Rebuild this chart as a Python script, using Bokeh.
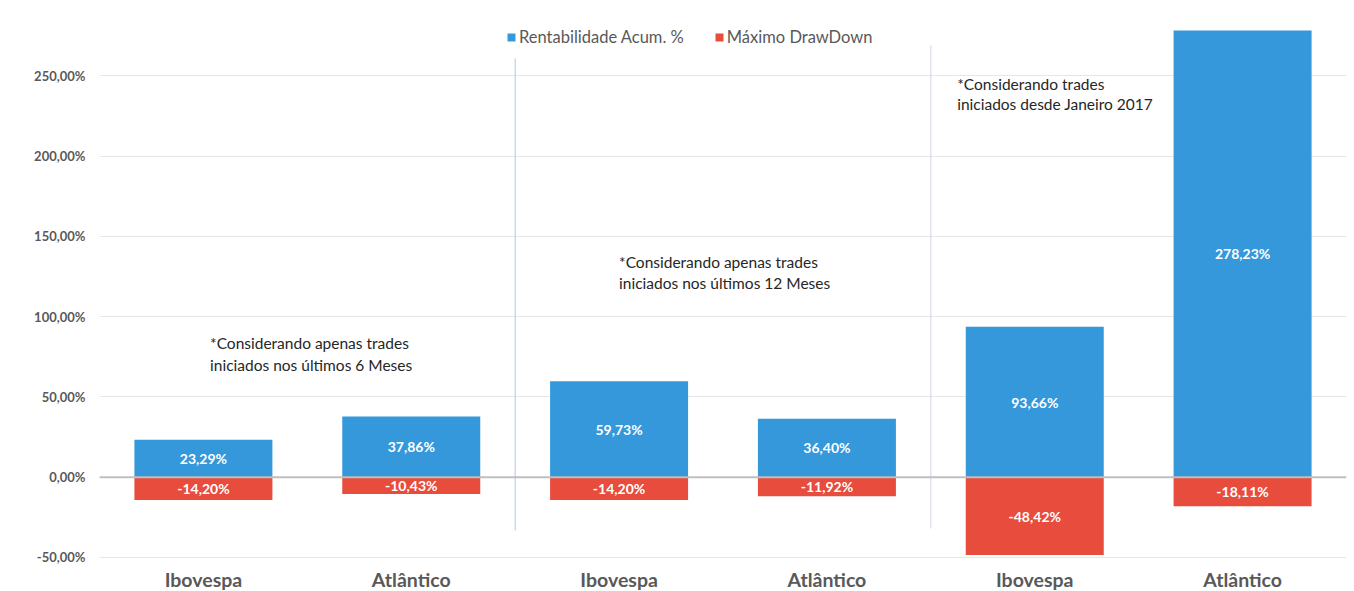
from bokeh.plotting import figure
from bokeh.models import (Range1d, FixedTicker, Span, Legend, LegendItem,
                          ColumnDataSource)
from bokeh.core.properties import value
from bokeh.embed import file_html
from bokeh.resources import INLINE

# ---- data ----
categories = ["Ibovespa", "Atlântico", "Ibovespa", "Atlântico", "Ibovespa", "Atlântico"]
rentabilidade = [23.29, 37.86, 59.73, 36.40, 93.66, 278.23]
drawdown = [-14.20, -10.43, -14.20, -11.92, -48.42, -18.11]
y_ticks = [-50, 0, 50, 100, 150, 200, 250]
notes = [
    ["*Considerando apenas trades", "iniciados nos últimos 6 Meses"],
    ["*Considerando apenas trades", "iniciados nos últimos 12 Meses"],
    ["*Considerando trades", "iniciados desde Janeiro 2017"],
]

FONT = "Lato"
BLUE = "#3498db"
RED = "#e74c3c"
GRAY = "#595959"


def fmt(v):
    return f"{v:.2f}".replace(".", ",") + "%"


xs = [i + 0.5 for i in range(len(categories))]

p = figure(width=1354, height=591, output_backend="svg", toolbar_location=None,
           x_range=Range1d(0, 6), y_range=Range1d(-71.2, 281.4),
           x_axis_location=None,
           min_border_left=99, min_border_right=8, min_border_top=25,
           min_border_bottom=0)
p.outline_line_color = None
p.background_fill_color = "white"
p.border_fill_color = "white"

# y axis
p.yaxis.ticker = FixedTicker(ticks=y_ticks)
p.yaxis.major_label_overrides = {t: fmt(t) for t in y_ticks}
p.yaxis.axis_line_color = None
p.yaxis.major_tick_line_color = None
p.yaxis.minor_tick_line_color = None
p.yaxis.major_tick_out = 0
p.yaxis.major_tick_in = 0
p.yaxis.major_label_standoff = 14
p.yaxis.major_label_text_font = FONT
p.yaxis.major_label_text_font_style = "bold"
p.yaxis.major_label_text_font_size = "13px"
p.yaxis.major_label_text_color = GRAY

p.xgrid.visible = False
p.ygrid.ticker = FixedTicker(ticks=y_ticks)
p.ygrid.grid_line_color = "#e6e6e6"
p.ygrid.grid_line_width = 1

# bars
src = ColumnDataSource(dict(x=xs, r=rentabilidade, d=drawdown,
                            rl=[fmt(v) for v in rentabilidade],
                            dl=[fmt(v) for v in drawdown],
                            rm=[v / 2 for v in rentabilidade],
                            dm=[v / 2 for v in drawdown],
                            cat=categories))
rb = p.vbar(x="x", top="r", bottom=0, width=0.664, source=src,
            fill_color=BLUE, line_color=None)
db = p.vbar(x="x", top=0, bottom="d", width=0.664, source=src,
            fill_color=RED, line_color=None)

p.text(x="x", y="rm", text="rl", source=src, text_align="center",
       text_baseline="middle", text_color="white", text_font=value(FONT),
       text_font_style="bold", text_font_size="14px")
p.text(x="x", y="dm", text="dl", source=src, text_align="center",
       text_baseline="middle", text_color="white", text_font=value(FONT),
       text_font_style="bold", text_font_size="14px")

# category labels (below the -50% gridline)
p.text(x="x", y=-64.0, text="cat", source=src, text_align="center",
       text_baseline="middle", text_color=GRAY, text_font=value(FONT),
       text_font_style="bold", text_font_size="19.5px")

# zero line
p.add_layout(Span(location=0, dimension="width", line_color="#bfbfbf",
                  line_width=2))

# group separators
p.segment(x0=[2, 4], y0=[-33.2, -32.0], x1=[2, 4], y1=[260.8, 269.0],
          line_color=["#b4c6e0", "#cfd6e4"], line_width=1)

# notes
note_x = [0.532, 2.50, 4.127]
note_y = [[83.3, 70.1], [133.8, 120.7], [244.7, 232.2]]
tx, ty, tt = [], [], []
for nx, nys, lines in zip(note_x, note_y, notes):
    for yy, line in zip(nys, lines):
        tx.append(nx)
        ty.append(yy)
        tt.append(line)
p.text(x=tx, y=ty, text=tt, text_align="left", text_baseline="middle",
       text_color="#262626", text_font=value(FONT), text_font_size="15.5px")

# legend
legend = Legend(items=[LegendItem(label="Rentabilidade Acum. %", renderers=[rb]),
                       LegendItem(label="Máximo DrawDown", renderers=[db])],
                orientation="horizontal", location=(407, 544),
                glyph_width=10, glyph_height=10, spacing=30, padding=2,
                label_text_font=FONT, label_text_font_size="16.5px",
                label_text_color=GRAY, label_standoff=3,
                border_line_color=None, background_fill_alpha=0)
p.add_layout(legend)

open("out.html", "w").write(file_html(p, INLINE))
